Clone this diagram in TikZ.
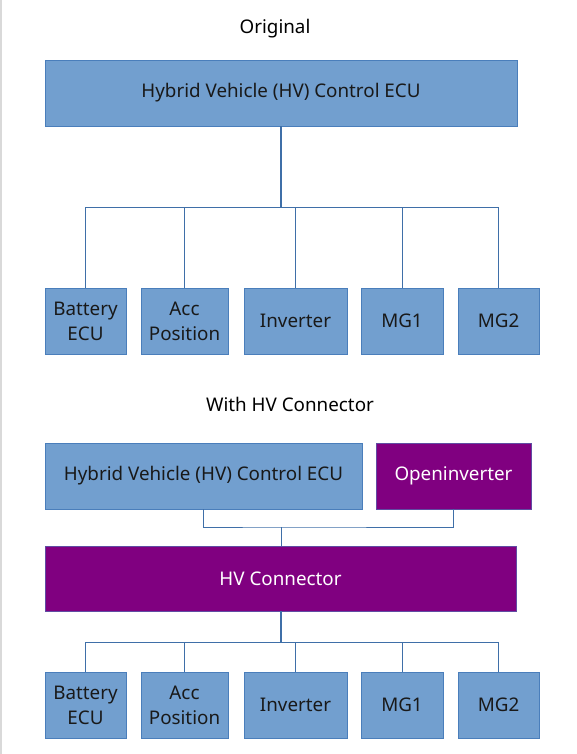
\documentclass[tikz,border=0pt]{standalone}
\usepackage{fontspec}
\setmainfont{Noto Sans}
\definecolor{boxblue}{HTML}{729FCF}
\definecolor{edgeblue}{HTML}{4A7EBB}
\definecolor{linkblue}{HTML}{3F6FA8}
\definecolor{hvpurple}{HTML}{800080}
\begin{document}
\begin{tikzpicture}[x=1pt,y=-1pt,
  every node/.style={font=\fontsize{18.8}{25}\selectfont, inner sep=0pt, align=center},
  bluebox/.style={draw=edgeblue, line width=0.8pt, fill=boxblue, text=black!90},
  purplebox/.style={draw=edgeblue!60!hvpurple, line width=0.8pt, fill=hvpurple, text=white},
  trunk/.style={draw=linkblue, line width=2pt},
  link/.style={draw=linkblue, line width=0.9pt},
  title/.style={text=black}]
\useasboundingbox (0,0) rectangle (576,754);
\draw[black!15, line width=1.5pt] (1,0) -- (1,754);

% ---------- Original ----------
\node[title] (t1) at (275,29) {Original};
\node[bluebox, minimum width=472, minimum height=66] (ecu1) at (281,93) {Hybrid Vehicle (HV) Control ECU};
\node[bluebox, minimum width=81, minimum height=66] (bat1) at (85.5,321) {Battery\\ECU};
\node[bluebox, minimum width=87, minimum height=66] (acc1) at (184.5,321) {Acc\\Position};
\node[bluebox, minimum width=103, minimum height=66] (inv1) at (295.5,321) {Inverter};
\node[bluebox, minimum width=82, minimum height=66] (mg11) at (402,321) {MG1};
\node[bluebox, minimum width=81, minimum height=66] (mg21) at (498.5,321) {MG2};
\coordinate (bus1) at (281,207);
\draw[trunk] (ecu1.south -| bus1) -- (bus1);
\draw[link] (bat1.north) |- (bus1);
\draw[link] (acc1.north) |- (bus1);
\draw[link] (inv1.north) |- (bus1);
\draw[link] (mg11.north) |- (bus1);
\draw[link] (mg21.north) |- (bus1);

% ---------- With HV Connector ----------
\node[title] (t2) at (290,404) {With HV Connector};
\node[bluebox, minimum width=317, minimum height=66] (ecu2) at (203.5,476) {Hybrid Vehicle (HV) Control ECU};
\node[purplebox, minimum width=155, minimum height=66] (oi) at (453.5,476) {Openinverter};
\node[purplebox, minimum width=471, minimum height=65] (hvc) at (280.5,578.5) {HV Connector};
\coordinate (bus2) at (281,527);
\draw[link] (ecu2.south) |- (bus2) -| (oi.south);
\draw[link] (bus2) -- (hvc.north -| bus2);

\node[bluebox, minimum width=81, minimum height=66] (bat2) at (85.5,705) {Battery\\ECU};
\node[bluebox, minimum width=87, minimum height=66] (acc2) at (184.5,705) {Acc\\Position};
\node[bluebox, minimum width=103, minimum height=66] (inv2) at (295.5,705) {Inverter};
\node[bluebox, minimum width=82, minimum height=66] (mg12) at (402,705) {MG1};
\node[bluebox, minimum width=81, minimum height=66] (mg22) at (498.5,705) {MG2};
\coordinate (bus3) at (281,642);
\draw[trunk] (hvc.south -| bus3) -- (bus3);
\draw[link] (bat2.north) |- (bus3);
\draw[link] (acc2.north) |- (bus3);
\draw[link] (inv2.north) |- (bus3);
\draw[link] (mg12.north) |- (bus3);
\draw[link] (mg22.north) |- (bus3);
\end{tikzpicture}
\end{document}
